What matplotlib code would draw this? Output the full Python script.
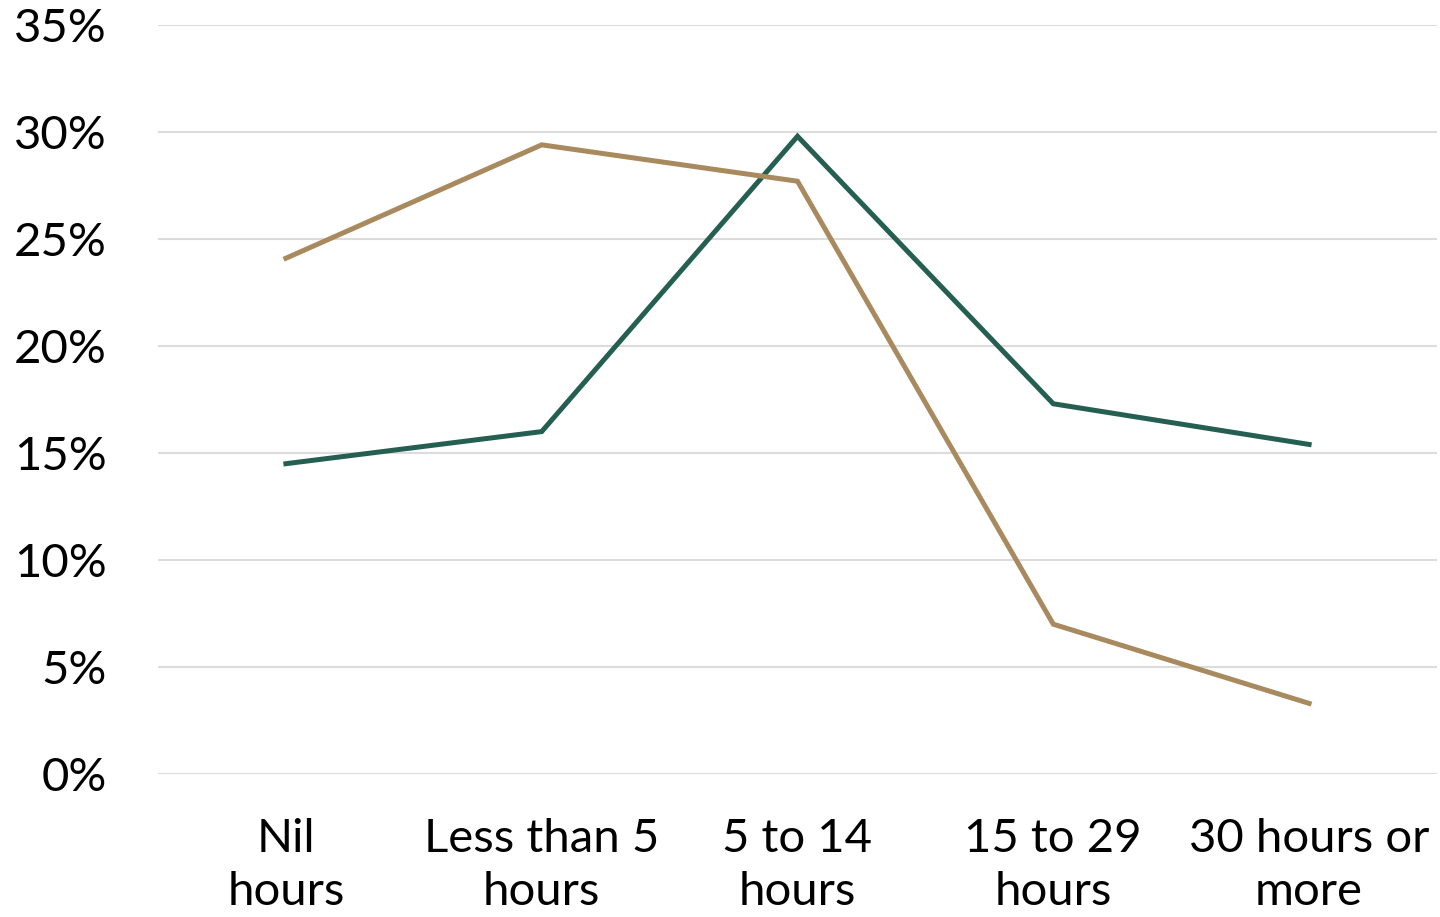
import matplotlib.pyplot as plt
from matplotlib.ticker import PercentFormatter

categories = ["Nil\nhours", "Less than 5\nhours", "5 to 14\nhours", "15 to 29\nhours", "30 hours or\nmore"]
green_vals = [14.5, 16.0, 29.8, 17.3, 15.4]
brown_vals = [24.1, 29.4, 27.7, 7.0, 3.3]
yticks = [0, 5, 10, 15, 20, 25, 30, 35]

plt.rcParams['font.family'] = ['Lato', 'DejaVu Sans']

fig = plt.figure(figsize=(14.4, 9.17), dpi=100)
ax = fig.add_axes([158 / 1440, 1 - 774 / 917, (1437 - 158) / 1440, (774 - 25) / 917])

x = range(len(categories))
ax.plot(x, green_vals, color='#255f52', lw=3.6, solid_joinstyle='miter', zorder=3)
ax.plot(x, brown_vals, color='#a88a5e', lw=3.6, solid_joinstyle='miter', zorder=3)

ax.set_xlim(-0.5, len(categories) - 0.5)
ax.set_ylim(0, 35)
ax.set_yticks(yticks)
ax.yaxis.set_major_formatter(PercentFormatter(decimals=0))
ax.set_xticks(list(x))
ax.set_xticklabels(categories, linespacing=1.3)

ax.grid(axis='y', color='#dcdcdc', lw=1.5)
ax.set_axisbelow(True)
for s in ax.spines.values():
    s.set_visible(False)
ax.tick_params(axis='both', length=0, labelsize=34, colors='black')
ax.tick_params(axis='y', pad=37)
ax.tick_params(axis='x', pad=32)

fig.savefig('out.png', dpi=100)
